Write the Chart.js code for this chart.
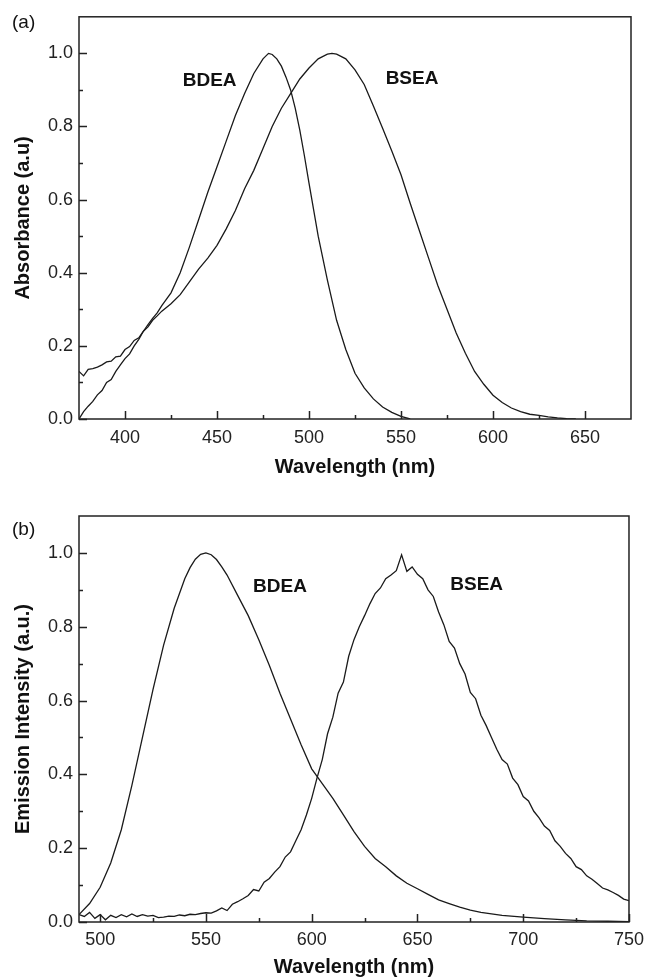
<!DOCTYPE html>
<html>
<head>
<meta charset="utf-8">
<script src="https://cdn.jsdelivr.net/npm/chart.js@4.4.0/dist/chart.umd.min.js"></script>
<style>
  body { margin: 0; background: #fff; }
  canvas { display: block; }
</style>
</head>
<body>
<canvas id="abs-chart" width="651" height="490"></canvas>
<canvas id="em-chart" width="651" height="489"></canvas>
<script>
// ---- (a) absorbance data ----
var absWlBDEA = [375, 377.5, 380, 382.5, 385, 387.5, 390, 392.5, 395, 397.5, 400, 402.5, 405, 407.5, 410, 412.5, 415, 417.5, 420,
  425, 430, 435, 440, 445, 450, 455, 460, 465, 470, 475, 478, 480, 482.5, 485, 487.5, 490, 492.5, 495, 497.5, 500,
  505, 510, 515, 520, 525, 530, 535, 540, 545, 550, 555];
var absBDEA = [0.0, 0.02, 0.035, 0.048, 0.066, 0.078, 0.1, 0.108, 0.13, 0.148, 0.165, 0.178, 0.2, 0.218, 0.24, 0.258, 0.275, 0.29, 0.31,
  0.345, 0.40, 0.47, 0.545, 0.62, 0.69, 0.76, 0.83, 0.89, 0.945, 0.985, 1.0, 0.997, 0.985, 0.965, 0.935, 0.9, 0.85, 0.79, 0.72, 0.645,
  0.5, 0.38, 0.27, 0.19, 0.125, 0.085, 0.055, 0.033, 0.018, 0.007, 0.0];

var absWlBSEA = [375, 377.5, 380, 382.5, 385, 387.5, 390, 392.5, 395, 397.5, 400, 402.5, 405, 407.5, 410, 412.5, 415, 417.5, 420,
  425, 430, 435, 440, 445, 450, 455, 460, 465, 470, 475, 480, 485, 490, 495, 500, 505, 510, 512.5, 515, 520, 525, 530, 535, 540, 545,
  550, 555, 560, 565, 570, 575, 580, 585, 590, 595, 600, 605, 610, 615, 620, 625, 630, 635, 640, 645];
var absBSEA = [0.13, 0.118, 0.136, 0.138, 0.142, 0.148, 0.156, 0.158, 0.17, 0.172, 0.19, 0.198, 0.215, 0.222, 0.24, 0.252, 0.27, 0.282, 0.295,
  0.315, 0.34, 0.375, 0.41, 0.44, 0.475, 0.52, 0.57, 0.63, 0.68, 0.74, 0.80, 0.85, 0.89, 0.93, 0.96, 0.985, 0.998, 1.0, 0.998, 0.985, 0.955, 0.915, 0.856, 0.795, 0.733,
  0.668, 0.59, 0.515, 0.44, 0.365, 0.3, 0.235, 0.18, 0.13, 0.095, 0.065, 0.045, 0.03, 0.02, 0.013, 0.01, 0.006, 0.003, 0.001, 0.0];

// ---- (b) emission data ----
var emWlBDEA = [490, 495, 500, 505, 510, 515, 520, 525, 530, 535, 540, 542.5, 545, 547.5, 550, 552.5, 555, 557.5, 560, 565, 570, 575, 580, 585, 590, 595, 600,
  605, 610, 615, 620, 625, 630, 635, 640, 645, 650, 655, 660, 665, 670, 675, 680, 690, 700, 710, 720, 730, 740, 750];
var emBDEA = [0.02, 0.05, 0.094, 0.16, 0.25, 0.37, 0.5, 0.63, 0.75, 0.85, 0.93, 0.96, 0.983, 0.996, 1.0, 0.995, 0.982, 0.962, 0.94, 0.885, 0.83, 0.765, 0.695, 0.62, 0.55, 0.48, 0.415,
  0.375, 0.335, 0.29, 0.245, 0.205, 0.172, 0.15, 0.125, 0.105, 0.09, 0.075, 0.06, 0.05, 0.04, 0.032, 0.026, 0.018, 0.013, 0.009, 0.006, 0.003, 0.002, 0.001];

var emWlBSEA = [490, 492.5, 495, 497.5, 500, 502.5, 505, 507.5, 510, 512.5, 515, 517.5, 520, 522.5, 525, 527.5, 530, 532.5, 535, 537.5,
  540, 542.5, 545, 547.5, 550, 552.5, 555, 557.5, 560, 562.5, 565, 567.5, 570, 572.5, 575, 577.5, 580, 582.5, 585, 587.5,
  590, 592.5, 595, 597.5, 600, 602.5, 605, 607.5, 610, 612.5, 615, 617.5, 620, 622.5, 625, 627.5, 630, 632.5, 635, 637.5,
  640, 642.5, 645, 647.5, 650, 652.5, 655, 657.5, 660, 662.5, 665, 667.5, 670, 672.5, 675, 677.5, 680, 682.5, 685, 687.5,
  690, 692.5, 695, 697.5, 700, 702.5, 705, 707.5, 710, 712.5, 715, 717.5, 720, 722.5, 725, 727.5, 730, 732.5, 735, 737.5,
  740, 742.5, 745, 747.5, 750];
var emBSEA = [0.02, 0.015, 0.026, 0.01, 0.02, 0.006, 0.018, 0.012, 0.02, 0.014, 0.022, 0.015, 0.02, 0.016, 0.018, 0.012, 0.013, 0.016, 0.015, 0.019,
  0.017, 0.021, 0.02, 0.023, 0.025, 0.024, 0.03, 0.038, 0.031, 0.048, 0.055, 0.063, 0.072, 0.088, 0.084, 0.108, 0.118, 0.135, 0.15, 0.176,
  0.19, 0.22, 0.25, 0.29, 0.335, 0.39, 0.44, 0.51, 0.555, 0.62, 0.65, 0.72, 0.765, 0.80, 0.83, 0.862, 0.89, 0.905, 0.93, 0.94,
  0.952, 0.995, 0.95, 0.962, 0.942, 0.93, 0.9, 0.882, 0.84, 0.805, 0.76, 0.742, 0.70, 0.672, 0.622, 0.605, 0.56, 0.532, 0.50, 0.468,
  0.44, 0.428, 0.39, 0.372, 0.34, 0.328, 0.30, 0.282, 0.26, 0.248, 0.22, 0.205, 0.186, 0.172, 0.15, 0.142, 0.125, 0.116, 0.104, 0.092,
  0.087, 0.08, 0.072, 0.062, 0.058];

// ---- axis ticks ----
var absXMajor = [400, 450, 500, 550, 600, 650];
var absXMinor = [425, 475, 525, 575, 625];
var emXMajor = [500, 550, 600, 650, 700, 750];
var emXMinor = [525, 575, 625, 675, 725];
var yMajor = [0, 0.2, 0.4, 0.6, 0.8, 1.0];
var yMinor = [0.1, 0.3, 0.5, 0.7, 0.9];

var FONT = "'Liberation Sans', Arial, Helvetica, sans-serif";

function toPoints(xs, ys) {
  return xs.map(function (x, i) { return { x: x, y: ys[i] }; });
}

// frame, inward ticks and curve labels
var framePlugin = {
  id: "frame",
  afterDatasetsDraw: function (chart, args, opts) {
    var ctx = chart.ctx, a = chart.chartArea;
    var xs = chart.scales.x, ys = chart.scales.y;
    ctx.save();
    ctx.strokeStyle = "#222";
    ctx.lineWidth = 1.5;
    ctx.strokeRect(a.left, a.top, a.right - a.left, a.bottom - a.top);
    ctx.beginPath();
    opts.xMajor.forEach(function (v) {
      var px = Math.round(xs.getPixelForValue(v)) + 0.5;
      ctx.moveTo(px, a.bottom); ctx.lineTo(px, a.bottom - 8);
    });
    opts.xMinor.forEach(function (v) {
      var px = Math.round(xs.getPixelForValue(v)) + 0.5;
      ctx.moveTo(px, a.bottom); ctx.lineTo(px, a.bottom - 4);
    });
    yMajor.forEach(function (v) {
      var py = Math.round(ys.getPixelForValue(v)) + 0.5;
      ctx.moveTo(a.left, py); ctx.lineTo(a.left + 8, py);
    });
    yMinor.forEach(function (v) {
      var py = Math.round(ys.getPixelForValue(v)) + 0.5;
      ctx.moveTo(a.left, py); ctx.lineTo(a.left + 4, py);
    });
    ctx.stroke();

    ctx.fillStyle = "#111";
    ctx.textAlign = "center";
    ctx.textBaseline = "middle";
    ctx.font = "bold 19px " + FONT;
    opts.labels.forEach(function (l) {
      ctx.fillText(l.text, xs.getPixelForValue(l.x), ys.getPixelForValue(l.y));
    });
    ctx.font = "19px " + FONT;
    ctx.textAlign = "left";
    ctx.fillText(opts.tag, 12, opts.tagY);
    ctx.restore();
  }
};

function makeChart(id, cfg) {
  var ctx = document.getElementById(id).getContext("2d");
  var lineOpts = {
    showLine: true,
    pointRadius: 0,
    borderColor: "#1a1a1a",
    borderWidth: 1.3,
    tension: 0,
    fill: false,
  };
  return new Chart(ctx, {
    type: "scatter",
    data: {
      datasets: [
        { label: "BDEA", data: toPoints(cfg.wl1, cfg.v1), ...lineOpts },
        { label: "BSEA", data: toPoints(cfg.wl2, cfg.v2), ...lineOpts },
      ],
    },
    options: {
      responsive: false,
      animation: false,
      layout: { padding: { top: cfg.padTop, right: 20, left: 0, bottom: 0 } },
      plugins: {
        legend: { display: false },
        tooltip: { enabled: false },
        frame: { xMajor: cfg.xMajor, xMinor: cfg.xMinor, labels: cfg.labels, tag: cfg.tag, tagY: cfg.tagY },
      },
      scales: {
        x: {
          type: "linear",
          min: cfg.xMin,
          max: cfg.xMax,
          grid: { display: false, drawTicks: false },
          border: { display: false },
          afterBuildTicks: function (scale) {
            scale.ticks = cfg.xMajor.map(function (v) { return { value: v }; });
          },
          afterFit: function (scale) { scale.height = cfg.xHeight; },
          ticks: {
            color: "#222",
            padding: cfg.xTickPad,
            maxRotation: 0,
            font: { family: FONT, size: 18 },
            callback: function (value) { return String(value); },
          },
          title: {
            display: true,
            text: "Wavelength (nm)",
            color: "#111",
            font: { family: FONT, size: 20, weight: "bold" },
            padding: { top: 0, bottom: cfg.xTitlePad },
          },
        },
        y: {
          type: "linear",
          min: 0,
          max: 1.1,
          grid: { display: false, drawTicks: false },
          border: { display: false },
          afterBuildTicks: function (scale) {
            scale.ticks = yMajor.map(function (v) { return { value: v }; });
          },
          afterFit: function (scale) { scale.width = 79; },
          ticks: {
            color: "#222",
            padding: 6,
            font: { family: FONT, size: 18 },
            callback: function (value) { return value.toFixed(1); },
          },
          title: {
            display: true,
            text: cfg.yTitle,
            color: "#111",
            font: { family: FONT, size: 20, weight: "bold" },
            padding: { top: 11, bottom: 0 },
          },
        },
      },
    },
    plugins: [framePlugin],
  });
}

document.addEventListener("DOMContentLoaded", function () {
  makeChart("abs-chart", {
    wl1: absWlBDEA, v1: absBDEA, wl2: absWlBSEA, v2: absBSEA,
    xMin: 375, xMax: 675, xMajor: absXMajor, xMinor: absXMinor,
    padTop: 14, xHeight: 71, xTickPad: 8, xTitlePad: 11,
    yTitle: "Absorbance (a.u)",
    labels: [{ text: "BDEA", x: 446, y: 0.924 }, { text: "BSEA", x: 556, y: 0.93 }],
    tag: "(a)", tagY: 23,
  });

  makeChart("em-chart", {
    wl1: emWlBDEA, v1: emBDEA, wl2: emWlBSEA, v2: emBSEA,
    xMin: 490, xMax: 750, xMajor: emXMajor, xMinor: emXMinor,
    padTop: 26, xHeight: 57, xTickPad: 7, xTitlePad: 0,
    yTitle: "Emission Intensity (a.u.)",
    labels: [{ text: "BDEA", x: 585, y: 0.908 }, { text: "BSEA", x: 678, y: 0.914 }],
    tag: "(b)", tagY: 40,
  });
});
</script>
</body>
</html>
